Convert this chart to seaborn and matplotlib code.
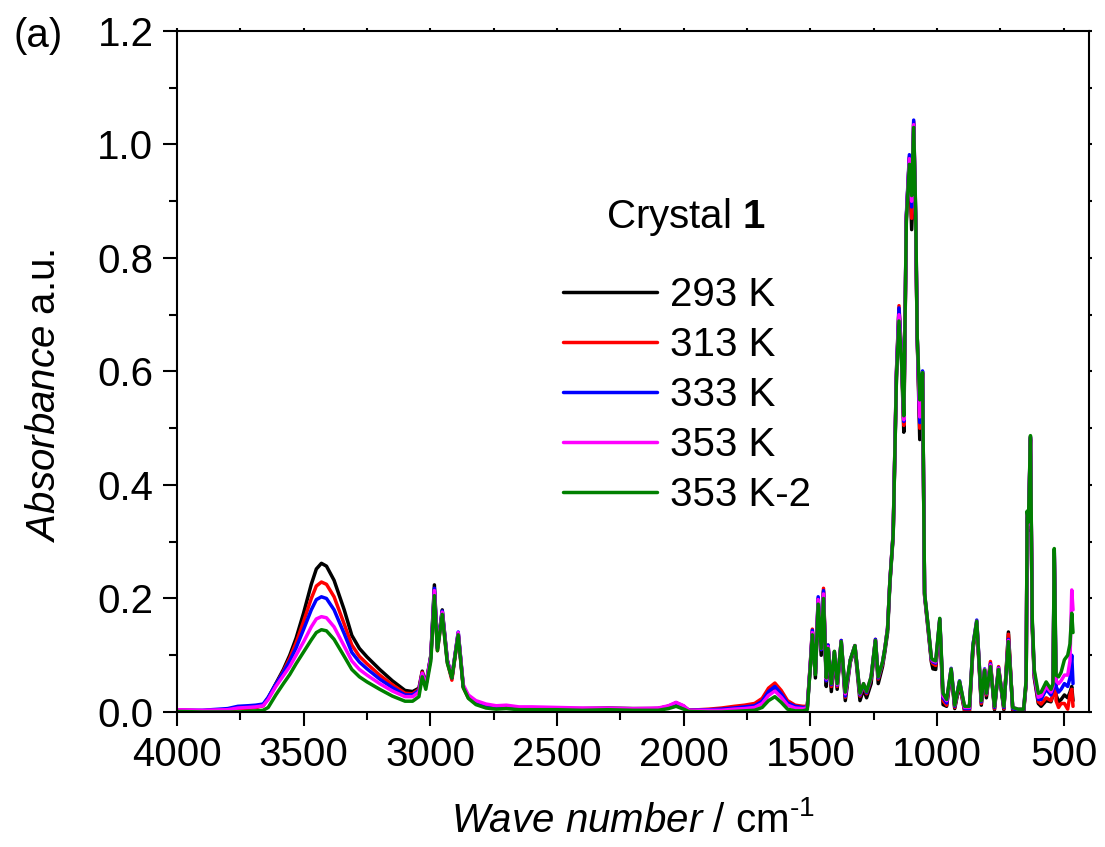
import matplotlib
matplotlib.use("Agg")
import matplotlib.pyplot as plt
from matplotlib.ticker import MultipleLocator, FormatStrFormatter
import pandas as pd
import seaborn as sns

# FT-IR absorbance spectra of crystal 1 recorded at several temperatures
wavenumber = [4000, 3900, 3800, 3760, 3720, 3690, 3660, 3640, 3610, 3580,
              3555, 3530, 3500, 3470, 3450, 3430, 3410, 3380, 3340, 3310,
              3280, 3250, 3200, 3150, 3100, 3070, 3045, 3032, 3018, 2998,
              2984, 2972, 2953, 2933, 2915, 2890, 2870, 2850, 2820, 2780,
              2740, 2700, 2650, 2600, 2500, 2400, 2300, 2200, 2100, 2060,
              2030, 2000, 1980, 1900, 1850, 1800, 1760, 1720, 1690, 1665,
              1640, 1615, 1590, 1560, 1530, 1512, 1500, 1492, 1480, 1469,
              1457, 1448, 1437, 1430, 1417, 1405, 1394, 1378, 1362, 1342,
              1324, 1304, 1290, 1278, 1260, 1243, 1232, 1215, 1206, 1195,
              1186, 1173, 1160, 1150, 1140, 1131, 1121, 1109, 1100, 1092,
              1084, 1078, 1068, 1057, 1049, 1035, 1022, 1016, 1005, 989,
              976, 962, 944, 930, 911, 891, 872, 858, 843, 825,
              812, 805, 789, 773, 757, 736, 718, 701, 680, 658,
              648, 644, 639, 631, 624, 616, 600, 589, 569, 550,
              542, 537, 530, 520, 510, 497, 484, 475, 468, 463]

abs_293K = [.003, .002, .004, .006, .007, .008, .012, .025, .050, .075,
            .100, .130, .175, .225, .252, .262, .257, .232, .180, .135,
            .112, .097, .075, .055, .038, .036, .042, .072, .048, .100,
            .224, .113, .180, .092, .060, .139, .045, .026, .016, .010,
            .008, .009, .006, .006, .006, .006, .007, .006, .006, .010,
            .016, .010, .003, .003, .004, .006, .008, .010, .018, .032,
            .042, .030, .014, .008, .006, .008, .080, .140, .060, .195,
            .100, .212, .045, .115, .036, .100, .040, .120, .020, .088,
            .112, .020, .040, .025, .050, .125, .050, .080, .105, .140,
            .225, .310, .590, .710, .620, .493, .870, .975, .850, 1.035,
            .850, .660, .480, .595, .205, .145, .088, .076, .075, .160,
            .013, .010, .072, .006, .048, .002, .002, .110, .155, .012,
            .072, .025, .083, .004, .075, .004, .141, .002, .000, .000,
            .050, .340, .320, .480, .150, .060, .015, .010, .020, .018,
            .030, .275, .030, .018, .022, .030, .025, .035, .045, .020]

abs_313K = [.003, .002, .004, .006, .007, .008, .011, .024, .048, .072,
            .095, .122, .160, .200, .222, .229, .225, .203, .155, .118,
            .098, .085, .065, .048, .033, .032, .040, .070, .046, .098,
            .212, .108, .175, .088, .056, .137, .043, .025, .016, .010,
            .008, .008, .006, .006, .005, .005, .006, .005, .006, .010,
            .016, .010, .003, .005, .007, .010, .012, .015, .024, .042,
            .051, .038, .020, .012, .010, .010, .085, .146, .068, .200,
            .110, .218, .055, .118, .045, .106, .045, .126, .026, .092,
            .117, .028, .046, .032, .058, .128, .058, .085, .110, .148,
            .230, .315, .600, .716, .630, .505, .870, .978, .870, 1.040,
            .860, .660, .500, .598, .207, .148, .090, .085, .082, .162,
            .020, .012, .074, .008, .052, .002, .002, .114, .158, .015,
            .074, .030, .089, .006, .080, .006, .137, .004, .001, .001,
            .052, .345, .325, .482, .155, .065, .018, .014, .025, .020,
            .030, .280, .020, .008, .015, .015, .005, .030, .040, .010]

abs_333K = [.003, .003, .006, .010, .011, .012, .014, .026, .049, .070,
            .090, .113, .146, .180, .198, .203, .200, .180, .138, .105,
            .088, .076, .058, .043, .030, .030, .038, .068, .046, .098,
            .218, .112, .178, .090, .060, .141, .045, .027, .017, .011,
            .008, .008, .006, .006, .005, .005, .006, .005, .006, .010,
            .016, .010, .003, .004, .005, .007, .009, .011, .019, .036,
            .045, .032, .016, .010, .008, .008, .085, .144, .068, .203,
            .110, .214, .055, .118, .048, .106, .047, .126, .028, .092,
            .117, .030, .048, .034, .060, .128, .060, .087, .111, .148,
            .230, .315, .600, .712, .630, .512, .875, .982, .890, 1.043,
            .870, .660, .510, .601, .208, .150, .092, .088, .086, .164,
            .025, .016, .077, .010, .055, .006, .006, .118, .162, .018,
            .076, .032, .085, .008, .078, .008, .128, .006, .003, .003,
            .054, .350, .330, .484, .158, .068, .022, .022, .040, .030,
            .040, .285, .045, .035, .040, .050, .045, .060, .100, .050]

abs_353K = [.004, .003, .004, .007, .008, .009, .011, .022, .045, .064,
            .080, .100, .124, .150, .164, .168, .166, .150, .116, .090,
            .075, .065, .050, .037, .027, .027, .035, .068, .046, .096,
            .214, .112, .176, .090, .062, .140, .048, .030, .020, .014,
            .011, .012, .009, .009, .008, .007, .007, .006, .007, .011,
            .017, .011, .003, .003, .003, .005, .006, .008, .015, .029,
            .037, .026, .012, .007, .006, .007, .084, .140, .068, .198,
            .112, .208, .058, .115, .050, .104, .048, .124, .032, .090,
            .117, .032, .050, .036, .062, .126, .062, .088, .112, .148,
            .229, .313, .595, .700, .625, .515, .870, .975, .900, 1.035,
            .870, .660, .520, .598, .208, .151, .094, .090, .088, .163,
            .028, .020, .076, .012, .054, .008, .008, .117, .160, .020,
            .075, .033, .083, .010, .077, .010, .126, .008, .005, .005,
            .055, .350, .330, .485, .160, .070, .026, .028, .045, .035,
            .045, .285, .055, .050, .055, .065, .065, .090, .215, .180]

abs_353K_2 = [.001, .000, .000, .000, .001, .002, .003, .008, .030, .050,
              .066, .085, .106, .127, .140, .145, .143, .128, .098, .075,
              .062, .053, .040, .028, .019, .019, .027, .062, .040, .090,
              .205, .108, .172, .086, .060, .136, .043, .024, .013, .007,
              .005, .006, .004, .004, .004, .003, .004, .003, .003, .006,
              .010, .005, .001, .000, .000, .001, .002, .003, .008, .020,
              .027, .017, .005, .002, .002, .004, .080, .136, .066, .190,
              .112, .200, .060, .112, .050, .107, .050, .124, .035, .092,
              .117, .033, .050, .036, .062, .126, .062, .088, .111, .146,
              .229, .312, .590, .689, .620, .522, .865, .965, .910, 1.030,
              .880, .660, .550, .598, .210, .152, .095, .092, .090, .165,
              .033, .022, .076, .012, .054, .010, .010, .117, .160, .020,
              .074, .033, .080, .010, .075, .010, .124, .008, .005, .005,
              .056, .354, .335, .487, .165, .074, .033, .035, .053, .040,
              .050, .288, .065, .062, .070, .092, .100, .120, .174, .140]

labels = ["293 K", "313 K", "333 K", "353 K", "353 K-2"]
colors = ["#000000", "#ff0000", "#0000ff", "#ff00ff", "#008000"]
x_ticks = [4000, 3500, 3000, 2500, 2000, 1500, 1000, 500]

series = [abs_293K, abs_313K, abs_333K, abs_353K, abs_353K_2]
df = pd.concat(
    [pd.DataFrame({"wavenumber": wavenumber, "absorbance": vals, "sample": lab})
     for lab, vals in zip(labels, series)],
    ignore_index=True,
)

sns.set_theme(style="ticks")
plt.rcParams["font.family"] = ["Liberation Sans", "DejaVu Sans"]
plt.rcParams["mathtext.fontset"] = "custom"
plt.rcParams["mathtext.rm"] = "Liberation Sans"
plt.rcParams["mathtext.it"] = "Liberation Sans:italic"
plt.rcParams["mathtext.bf"] = "Liberation Sans:bold"
for key in ["text.color", "axes.labelcolor", "xtick.color", "ytick.color",
            "axes.edgecolor"]:
    plt.rcParams[key] = "black"

FS = 29
LW = 2.5

fig = plt.figure(figsize=(11.05, 8.47), dpi=100)
ax = fig.add_axes([0.1602, 0.1594, 0.8253, 0.804])

sns.lineplot(data=df, x="wavenumber", y="absorbance", hue="sample",
             hue_order=labels, palette=dict(zip(labels, colors)),
             sort=False, estimator=None, linewidth=LW, ax=ax, legend=False)

ax.set_xlim(4000, 400)
ax.set_ylim(0, 1.2)
ax.set_xticks(x_ticks)
ax.xaxis.set_minor_locator(MultipleLocator(250))
ax.yaxis.set_major_locator(MultipleLocator(0.2))
ax.yaxis.set_minor_locator(MultipleLocator(0.1))
ax.yaxis.set_major_formatter(FormatStrFormatter("%.1f"))

for side in ["left", "bottom", "top", "right"]:
    ax.spines[side].set_linewidth(1.5)
    ax.spines[side].set_color("black")

ax.tick_params(axis="both", which="major", direction="out", length=10,
               width=1.5, labelsize=FS, pad=7)
ax.tick_params(axis="both", which="minor", direction="out", length=6,
               width=1.5)
# tiny mirrored marks on the top and right frame
ax.tick_params(axis="x", which="both", top=True, labeltop=False)
ax.tick_params(axis="y", which="both", right=True, labelright=False)
for t in ax.xaxis.get_major_ticks() + ax.xaxis.get_minor_ticks():
    t.tick2line.set_markersize(2)
for t in ax.yaxis.get_major_ticks() + ax.yaxis.get_minor_ticks():
    t.tick2line.set_markersize(2)

ax.set_xlabel(r"$\it{Wave\ number}$ / cm$^{\text{-}1}$", fontsize=FS, labelpad=20)
ax.set_ylabel(r"$\it{Absorbance}$ a.u.", fontsize=FS)
ax.yaxis.set_label_coords(-0.125, 0.465)
ax.grid(False)

handles = [plt.Line2D([], [], color=c, linewidth=LW) for c in colors]
ax.legend(handles, labels, loc="upper left", bbox_to_anchor=(0.423, 0.640),
          frameon=False, fontsize=FS, handlelength=2.35, handletextpad=0.3,
          labelspacing=0.3, borderpad=0, borderaxespad=0)
ax.text(0.558, 0.727, r"Crystal $\mathbf{1}$", transform=ax.transAxes,
        fontsize=FS, ha="center", va="center")

fig.text(0.012, 0.958, "(a)", fontsize=FS, ha="left", va="center")

fig.savefig("out.png", dpi=100)
